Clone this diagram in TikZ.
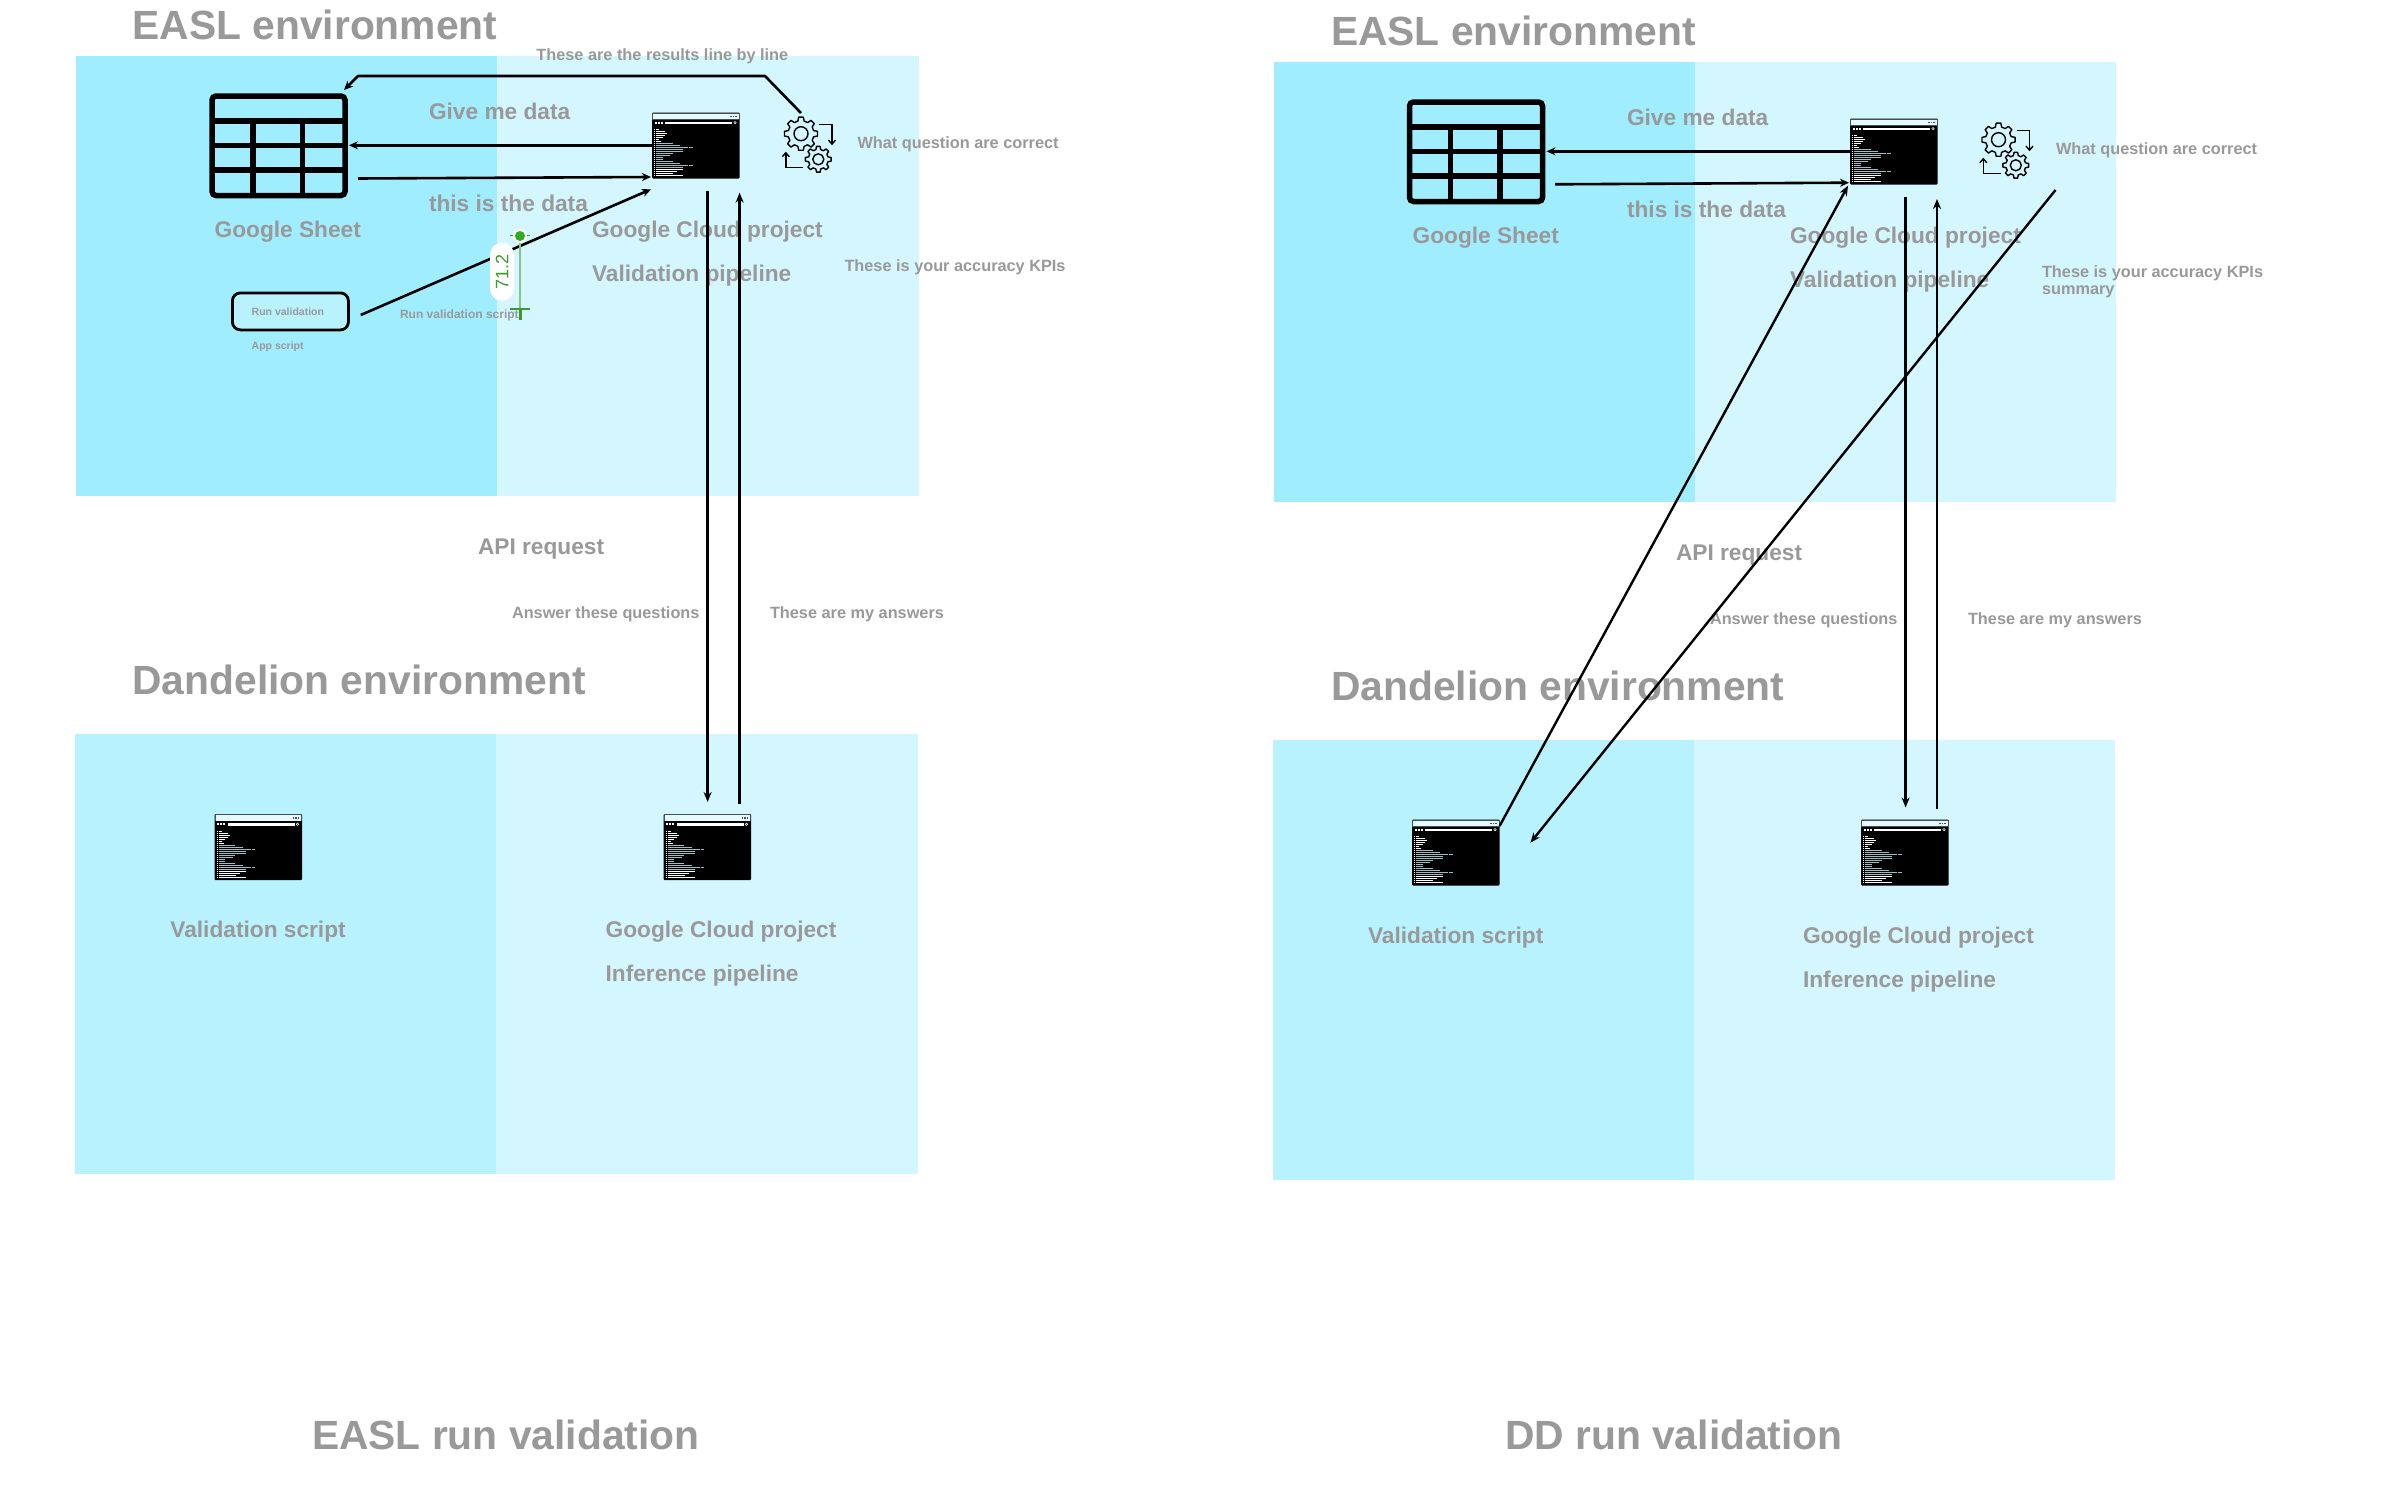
\documentclass[tikz,border=0pt]{standalone}
\usepackage{fontspec}
\setmainfont{Liberation Sans}
\usetikzlibrary{arrows.meta,calc}
\definecolor{panA}{HTML}{A0EDFF}
\definecolor{panB}{HTML}{D4F6FF}
\definecolor{panC}{HTML}{B9F2FF}
\definecolor{txt}{HTML}{999999}
\definecolor{grn}{HTML}{3C9A2A}
\definecolor{barg}{HTML}{9CBEC2}
\tikzset{
  x=1pt,y=-1pt,
  panel/.style={draw=none,minimum width=#1,minimum height=439.5,anchor=north west,inner sep=0,outer sep=0},
  lbl/.style={anchor=west,inner sep=0,outer sep=0,text=txt,font=\bfseries},
  title/.style={lbl,font=\bfseries\fontsize{40.8}{48}\selectfont},
  head/.style={lbl,yshift=-1.5pt,font=\bfseries\fontsize{22.7}{28}\selectfont},
  note/.style={lbl,yshift=-1.5pt,font=\bfseries\fontsize{16.3}{16}\selectfont},
  tiny/.style={lbl,font=\bfseries\fontsize{10.5}{12}\selectfont},
  link/.style={draw=black,line width=2.6,-{Stealth[length=9,width=8]}},
  thin link/.style={draw=black,line width=2.4,-{Stealth[length=10,width=8]}},
  sheetline/.style={draw=black,line width=5.5},
  gearline/.style={draw=black,line width=1.4,fill=none},
  appbox/.style={draw=black,line width=2.8,rounded corners=8,fill=panC,minimum width=116,minimum height=37,inner sep=0,anchor=north west},
  pill/.style={fill=white,rounded corners=12,minimum width=58,minimum height=24,inner sep=0,text=grn,rotate=90,font=\fontsize{18}{20}\selectfont},
  pics/win/.style={code={
    \fill[rounded corners=1,fill=black] (0,0) rectangle (87.5,66);
    \fill[black!75!cyan] (0,0) rectangle (87.5,7);
    \fill[panB!60!white] (1,1) rectangle (86.5,6.5);
    \foreach \d in {78,80.5,83}{\fill[black!70] (\d,3) rectangle +(1.5,1.5);}
    \foreach \d in {2.5,5.5,8.5}{\fill[white] (\d,9) rectangle +(2,2.2);}
    \fill[white] (13,9) rectangle (80,11.5);
    \draw[white,line width=.5] (83,10.2) circle (1.2);
    \foreach \i/\w/\c in {0/7/white,1/13/white,2/15.3/white,3/13/white,4/10.7/white,5/7/white,6/9.3/white,
        7/20.7/barg,8/28/barg,9/36/barg,10/31.3/barg,11/31.3/barg,12/20.7/barg,13/18/barg,14/10.7/barg,15/10.7/barg,
        16/20.7/barg,17/28/barg,18/36/barg,19/31.3/barg,20/31.3/white,21/25/white,22/21/white,23/31/white}{
      \fill[\c] (4,{16.5+\i*2}) rectangle (\w,{17.7+\i*2});
      \fill[white] (2,{16.5+\i*2}) rectangle (3,{17.7+\i*2});
    }
    \fill[barg] (37,34.5) rectangle (40.5,35.7);
    \fill[barg] (37,52.5) rectangle (40.5,53.7);
  }},
  pics/sheet/.style={code={
    \draw[sheetline,rounded corners=4] (0,0) rectangle (133,99.5);
    \draw[sheetline] (0,25) -- (133,25) (0,49.5) -- (133,49.5) (0,74) -- (133,74);
    \draw[sheetline] (41,25) -- (41,99.5) (90.5,25) -- (90.5,99.5);
  }},
  pics/gears/.style={code={
    \foreach \cx/\cy/\ro/\ri/\rh in {0/0/16.7/13/7,17.3/25.6/13/10/5.5}{
      \draw[gearline,line join=round] ($(\cx,\cy)+(-14:\ri)$)
        \foreach \a in {0,45,...,315}{
          -- ($(\cx,\cy)+(\a-14:\ri)$) -- ($(\cx,\cy)+(\a-8:\ro)$) -- ($(\cx,\cy)+(\a+8:\ro)$) -- ($(\cx,\cy)+(\a+14:\ri)$)
        } -- cycle;
      \draw[gearline] (\cx,\cy) circle (\rh);
    }
    \draw[gearline,-{Straight Barb[length=4,width=7]}] (18,-9) -- (31,-9) -- (31,11.5);
    \draw[gearline,-{Straight Barb[length=4,width=7]}] (2,33.5) -- (-15.2,33.5) -- (-15.2,18);
  }},
}
\begin{document}
\begin{tikzpicture}
\useasboundingbox (0,0) rectangle (2386,1512);
\fill[white] (0,0) rectangle (2386,1512);
% panels
\node[panel=421,fill=panA] (p1a) at (76,56) {};
\node[panel=422,fill=panB] (p1b) at (497,56) {};
\node[panel=422,fill=panC] (p2a) at (75,734) {};
\node[panel=422,fill=panB] (p2b) at (496,734) {};
\node[panel=421,fill=panA] (p3a) at (1274,62) {};
\node[panel=421,fill=panB] (p3b) at (1695,62) {};
\node[panel=421,fill=panC] (p4a) at (1273,740) {};
\node[panel=421,fill=panB] (p4b) at (1694,740) {};
% texts, left
\node[title] (t1) at (132.4,25) {EASL environment};
\node[note] (t2) at (536.4,54.8) {These are the results line by line};
\node[head] (t3) at (429,110) {Give me data};
\node[head] (t4) at (429,202) {this is the data};
\node[head] (t5) at (214.6,230) {Google Sheet};
\node[head] (t6) at (592,230) {Google Cloud project};
\node[head] (t7) at (592,274) {Validation pipeline};
\node[note] (t8) at (857.5,143) {What question are correct};
\node[note] (t9) at (844.5,266) {These is your accuracy KPIs};
\node[head] (t10) at (478,548) {API request};
\node[note] (t11) at (512,613) {Answer these questions};
\node[note] (t12) at (770,613) {These are my answers};
\node[title] (t13) at (132.4,680) {Dandelion environment};
\node[head] (t14) at (170.4,930) {Validation script};
\node[head] (t15) at (605.6,930) {Google Cloud project};
\node[head] (t16) at (605.6,974) {Inference pipeline};
\node[title] (t17) at (312,1435) {EASL run validation};
\node[tiny] (t18) at (251.7,347) {App script};
\node[tiny,font=\bfseries\fontsize{12}{12}\selectfont] (t19) at (400,315.5) {Run validation script};
% texts, right
\node[title] (r1) at (1331,31) {EASL environment};
\node[head] (r3) at (1627,116) {Give me data};
\node[head] (r4) at (1627,208) {this is the data};
\node[head] (r5) at (1412.6,236) {Google Sheet};
\node[head] (r6) at (1790,236) {Google Cloud project};
\node[head] (r7) at (1790,280) {Validation pipeline};
\node[note] (r8) at (2056,149) {What question are correct};
\node[note,align=left,font=\bfseries\fontsize{16.3}{16.5}\selectfont] (r9) at (2042,280.5) {These is your accuracy KPIs\\summary};
\node[head] (r10) at (1676,554) {API request};
\node[note] (r11) at (1710,619) {Answer these questions};
\node[note] (r12) at (1968,619) {These are my answers};
\node[title] (r13) at (1331,686) {Dandelion environment};
\node[head] (r14) at (1368,936) {Validation script};
\node[head] (r15) at (1803,936) {Google Cloud project};
\node[head] (r16) at (1803,980) {Inference pipeline};
\node[title] (r17) at (1505,1435) {DD run validation};
% icons
\pic at (212,96) {sheet};
\pic at (1409.5,102) {sheet};
\pic at (652,112.5) {win};
\pic at (1850,118.5) {win};
\pic at (214.5,814) {win};
\pic at (663.5,814) {win};
\pic at (1412,819.5) {win};
\pic at (1861,819.5) {win};
\pic at (801,133.7) {gears};
\pic at (1998.5,139.7) {gears};
% app script box
\node[appbox] (run) at (231,291.5) {};
\node[tiny] (runl) at (251.7,311.5) {Run validation};
% named ends
\coordinate (a1) at (801,113);
\coordinate (a2) at (765,76);
\coordinate (a3) at (358,76);
\coordinate (a4) at (344,90);
\coordinate (b1) at (652,145.3);
\coordinate (b2) at (349,145.3);
\coordinate (c1) at (358,178.5);
\coordinate (c2) at (651,177);
\coordinate (d1) at (360.7,315);
\coordinate (d2) at (651,189.3);
\coordinate (e1) at (707.6,191);
\coordinate (e2) at (707.6,802);
\coordinate (f1) at (739.6,804);
\coordinate (f2) at (739.6,192.7);
\coordinate (g1) at (1850,151.3);
\coordinate (g2) at (1546.5,151.3);
\coordinate (h1) at (1555,184.3);
\coordinate (h2) at (1849,182.7);
\coordinate (i1) at (1499.6,826);
\coordinate (i2) at (1848,185.7);
\coordinate (j1) at (2055.5,190);
\coordinate (j2) at (1530.4,842.7);
\coordinate (k1) at (1905.6,197);
\coordinate (k2) at (1905.6,807.5);
\coordinate (l1) at (1937,809);
\coordinate (l2) at (1937,199);
% connectors
\draw[link,line join=round] (a1) -- (a2) -- (a3) -- (a4);
\draw[link] (b1) -- (b2);
\draw[link] (c1) -- (c2);
\draw[link] (d1) -- (d2);
\draw[thin link] (e1) -- (e2);
\draw[thin link] (f1) -- (f2);
\draw[link] (g1) -- (g2);
\draw[link] (h1) -- (h2);
\draw[thin link] (i1) -- (i2);
\draw[thin link] (j1) -- (j2);
\draw[thin link] (k1) -- (k2);
\draw[thin link] (l1) -- (l2);
% green measuring marker
\coordinate (m1) at (520,236);
\coordinate (m2) at (520,309);
\coordinate (m3) at (520,320);
\draw[grn!60,line width=1.6] (m1) -- (m2);
\draw[grn,line width=3] (m2) -- (m3);
\draw[grn,line width=2] (510,309) -- (530,309);
\draw[grn,line width=1] (510,235.7) -- (514,235.7) (526,235.7) -- (530,235.7);
\fill[white] (m1) circle (7);
\fill[grn!80!green] (m1) circle (5);
\node[pill] (val) at (502,271.7) {71.2};
\end{tikzpicture}
\end{document}
